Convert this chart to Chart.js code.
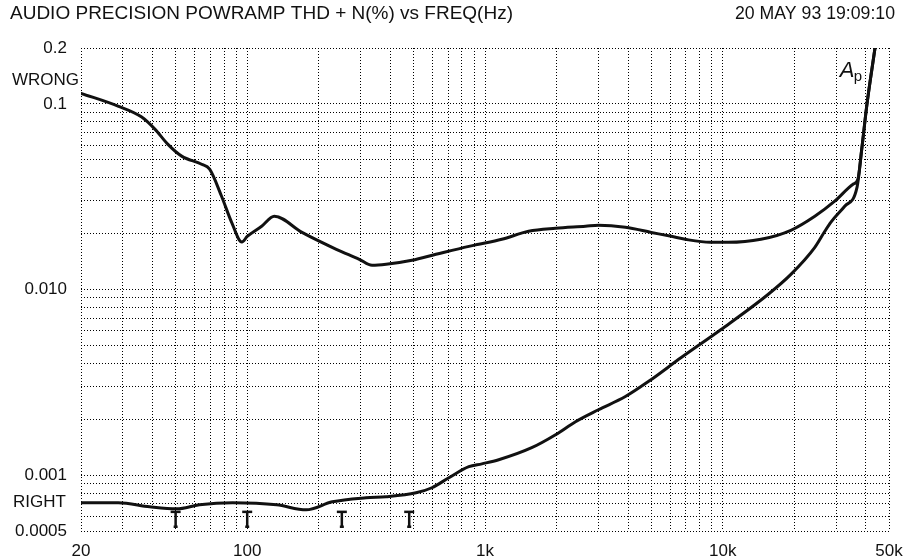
<!DOCTYPE html>
<html>
<head>
<meta charset="utf-8">
<script src="https://cdn.jsdelivr.net/npm/chart.js@4.4.1/dist/chart.umd.min.js"></script>
<style>
  html, body { margin: 0; padding: 0; background: #fff; }
  #wrap { width: 906px; height: 560px; }
</style>
</head>
<body>
<div id="wrap"><canvas id="thd"></canvas></div>
<script>
// THD+N sweep, two amplifier channels (frequency in Hz, THD+N in %)
const wrongFreq = [20, 28.6, 36, 40.9, 46.3, 53, 64.3, 69.5, 78, 86, 95, 100, 115, 130, 170, 237, 296, 335, 384, 493, 622, 855, 942, 1176, 1526, 1980, 2646, 3000, 3894, 5003, 6070, 6948, 8846, 10524, 14470, 19334, 24380, 29560, 35300, 37000, 38400, 40300, 43600];
const wrongThd = [0.114, 0.0973, 0.0849, 0.0731, 0.0607, 0.0523, 0.0473, 0.0445, 0.0318, 0.023, 0.018, 0.0193, 0.0219, 0.0248, 0.0203, 0.01646, 0.01454, 0.01349, 0.01366, 0.01436, 0.01547, 0.01708, 0.01752, 0.01864, 0.02058, 0.02137, 0.0219, 0.02218, 0.02163, 0.0203, 0.01934, 0.01864, 0.01795, 0.01795, 0.01864, 0.02084, 0.0248, 0.0299, 0.0369, 0.0393, 0.057, 0.0973, 0.1975];

const rightFreq = [20, 28.7, 38.9, 50.5, 63, 86.8, 133, 177, 228, 316, 384, 513, 598, 705, 855, 970, 1142, 1572, 1980, 2403, 3000, 3894, 4862, 6687, 9835, 15490, 19334, 24380, 26860, 28450, 32560, 36700, 38400, 40300, 43600];
const rightThd = [0.00071, 0.00071, 0.000675, 0.000658, 0.000692, 0.00071, 0.000692, 0.00065, 0.000718, 0.000755, 0.000765, 0.000803, 0.000855, 0.000968, 0.00111, 0.00115, 0.00121, 0.001405, 0.00165, 0.00194, 0.00225, 0.00265, 0.00319, 0.0043, 0.00609, 0.0094, 0.01206, 0.01687, 0.0206, 0.023, 0.0281, 0.0356, 0.057, 0.0973, 0.1975];

// little "T" glitch marks hanging under the RIGHT trace
const markFreq = [50, 100, 250, 480];
const markTop = 0.000634;
const markBottom = 0.000527;

// grid lines and the few that carry a label
const freqGrid = [20, 30, 40, 50, 60, 70, 80, 90, 100, 200, 300, 400, 500, 600, 700, 800, 900,
  1000, 2000, 3000, 4000, 5000, 6000, 7000, 8000, 9000, 10000, 20000, 30000, 40000, 50000];
const freqTickValues = [20, 100, 1000, 10000, 50000];
const freqTickLabels = ['20', '100', '1k', '10k', '50k'];

const thdGrid = [0.0005, 0.0006, 0.0007, 0.0008, 0.0009, 0.001, 0.002, 0.003, 0.004, 0.005, 0.006, 0.007, 0.008, 0.009,
  0.01, 0.02, 0.03, 0.04, 0.05, 0.06, 0.07, 0.08, 0.09, 0.1, 0.2];
const thdTickValues = [0.0005, 0.001, 0.01, 0.1, 0.2];
const thdTickLabels = ['0.0005', '0.001', '0.010', '0.1', '0.2'];

const headerLeft = 'AUDIO PRECISION POWRAMP THD + N(%) vs FREQ(Hz)';
const headerRight = '20 MAY 93 19:09:10';

const INK = '#111';
const FONT = "'Liberation Sans', Arial, Helvetica, sans-serif";

const toPoints = (xs, ys) => xs.map((f, i) => ({ x: f, y: ys[i] }));

const markPoints = [];
markFreq.forEach(f => {
  markPoints.push({ x: f, y: markTop }, { x: f, y: markBottom }, { x: f, y: null });
});

// squeeze a string horizontally so it spans a given width
function fitText(ctx, text, x, y, width) {
  const w = ctx.measureText(text).width;
  ctx.save();
  ctx.translate(x, y);
  ctx.scale(width / w, 1);
  ctx.fillText(text, 0, 0);
  ctx.restore();
}

const plotLabels = {
  id: 'plotLabels',
  afterDraw(chart) {
    const { ctx, scales: { x, y } } = chart;
    ctx.save();
    ctx.fillStyle = INK;
    ctx.textBaseline = 'middle';
    ctx.textAlign = 'left';

    ctx.font = `18px ${FONT}`;
    fitText(ctx, headerLeft, 10, 14, 503);
    fitText(ctx, headerRight, 735, 14, 160);

    // channel names next to the start of each trace
    ctx.font = `17px ${FONT}`;
    ctx.fillText('WRONG', 12, y.getPixelForValue(0.1336));
    ctx.fillText('RIGHT', 13, y.getPixelForValue(0.00071));

    // A with subscript p
    const ax = x.getPixelForValue(31000);
    const ay = y.getPixelForValue(0.14);
    ctx.textBaseline = 'alphabetic';
    ctx.font = `italic 22px ${FONT}`;
    ctx.fillText('A', ax, ay);
    ctx.font = `15px ${FONT}`;
    ctx.fillText('p', ax + 14, ay + 4);
    ctx.restore();
  }
};

const gridStyle = {
  color: '#000',
  lineWidth: 1,
  drawTicks: false
};

// keep the plot box fixed: no extra room for the end labels
const noLabelPadding = s => {
  s.paddingLeft = 0;
  s.paddingRight = 0;
  s.paddingTop = 0;
  s.paddingBottom = 0;
};

new Chart(document.getElementById('thd'), {
  type: 'line',
  data: {
    datasets: [
      {
        label: 'WRONG',
        data: toPoints(wrongFreq, wrongThd),
        borderColor: INK,
        borderWidth: 3,
        borderCapStyle: 'round',
        pointRadius: 0,
        cubicInterpolationMode: 'monotone'
      },
      {
        label: 'RIGHT',
        data: toPoints(rightFreq, rightThd),
        borderColor: INK,
        borderWidth: 3,
        borderCapStyle: 'round',
        pointRadius: 0,
        cubicInterpolationMode: 'monotone'
      },
      {
        label: 'marks',
        data: markPoints,
        borderColor: INK,
        borderWidth: 2.5,
        spanGaps: false,
        pointStyle: 'line',
        pointBorderColor: INK,
        pointBorderWidth: 2.5,
        pointRadius: ctx => (ctx.raw && ctx.raw.y === markTop ? 5 : 2)
      }
    ]
  },
  options: {
    responsive: true,
    maintainAspectRatio: false,
    animation: false,
    layout: { padding: { top: 48, right: 17, left: 0, bottom: 0 } },
    plugins: {
      legend: { display: false },
      tooltip: { enabled: false },
      title: { display: false }
    },
    scales: {
      x: {
        type: 'logarithmic',
        min: 20,
        max: 50000,
        afterBuildTicks: s => { s.ticks = freqGrid.map(v => ({ value: v })); },
        afterFit: s => { s.height = 29; noLabelPadding(s); },
        border: { display: false, dash: [1, 2] },
        grid: gridStyle,
        ticks: {
          autoSkip: false,
          maxRotation: 0,
          padding: 10,
          color: INK,
          font: { family: FONT, size: 17 },
          callback: v => {
            const i = freqTickValues.indexOf(v);
            return i >= 0 ? freqTickLabels[i] : '';
          }
        }
      },
      y: {
        type: 'logarithmic',
        min: 0.0005,
        max: 0.2,
        afterBuildTicks: s => { s.ticks = thdGrid.map(v => ({ value: v })); },
        afterFit: s => { s.width = 81; noLabelPadding(s); },
        border: { display: false, dash: [1, 2] },
        grid: gridStyle,
        ticks: {
          autoSkip: false,
          padding: 14,
          color: INK,
          font: { family: FONT, size: 17 },
          callback: v => {
            const i = thdTickValues.indexOf(v);
            return i >= 0 ? thdTickLabels[i] : '';
          }
        }
      }
    }
  },
  plugins: [plotLabels]
});
</script>
</body>
</html>
